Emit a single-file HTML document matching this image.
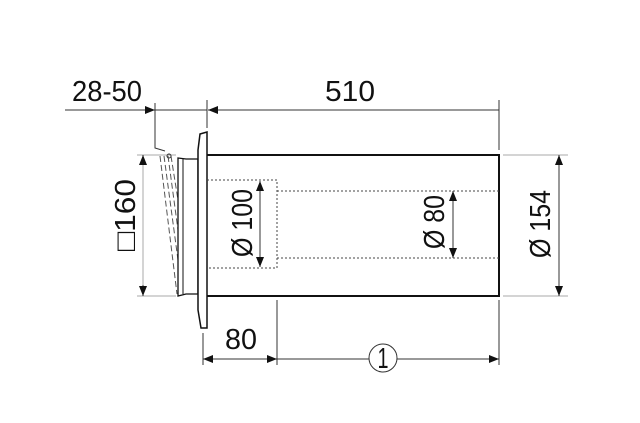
<!DOCTYPE html>
<html><head><style>body{margin:0;background:#fff}svg{display:block}text{font-family:"Liberation Sans",sans-serif;font-size:29px;fill:#111}</style></head>
<body>
<svg width="640" height="423" viewBox="0 0 640 423">
<defs>
<marker id="a" markerWidth="10" markerHeight="8" refX="10" refY="4" orient="auto" markerUnits="userSpaceOnUse"><path d="M0,0 L10,4 L0,8 z" fill="#111"/></marker>
</defs>
<g stroke="#333" stroke-width="1" fill="none">
<line x1="65" y1="110" x2="155" y2="110" marker-end="url(#a)"/>
<line x1="155" y1="110" x2="207" y2="110"/>
<line x1="499" y1="110" x2="208" y2="110" marker-end="url(#a)"/>
<polyline points="155,103 155,148 165,151"/>
<line x1="207" y1="100" x2="207" y2="128"/>
<line x1="499" y1="100" x2="499" y2="150"/>
<line x1="137" y1="155" x2="176" y2="155" stroke="#aaa"/>
<line x1="137" y1="296" x2="176" y2="296" stroke="#aaa"/>
<line x1="143" y1="165" x2="143" y2="155" marker-end="url(#a)"/>
<line x1="143" y1="165" x2="143" y2="285" stroke="#aaa"/>
<line x1="143" y1="285" x2="143" y2="296" marker-end="url(#a)"/>
<g stroke-dasharray="6,3" stroke="#555">
<line x1="160" y1="156" x2="177" y2="294"/>
<line x1="164" y1="156" x2="178" y2="260"/>
<line x1="168" y1="156" x2="178" y2="230"/>
<line x1="171" y1="156" x2="178" y2="200"/>
</g>
<circle cx="169" cy="156" r="2"/>
</g>
<g stroke="#111" stroke-width="2" fill="#fff">
<path d="M178,158 L186,159 L198,159 L198,294 L186,294 L178,296 z" stroke-width="1.3"/>
<line x1="183" y1="159" x2="183" y2="294" stroke-width="1"/>
<path d="M200,134 L207,132 L207,328 L201,328 L198,310 L198,150 z" stroke-width="1.5"/>
<path d="M207,155 L499,155 L499,296 L207,296" fill="none"/>
</g>
<g stroke="#444" stroke-width="1" fill="none" stroke-dasharray="2,2">
<path d="M207,180 L277,180 L277,268 L207,268"/>
<line x1="277" y1="191" x2="499" y2="191"/>
<line x1="277" y1="258" x2="499" y2="258"/>
</g>
<g stroke="#333" stroke-width="1" fill="none">
<line x1="260" y1="222" x2="260" y2="181" marker-end="url(#a)"/>
<line x1="260" y1="222" x2="260" y2="267" marker-end="url(#a)"/>
<line x1="453" y1="224" x2="453" y2="191" marker-end="url(#a)"/>
<line x1="453" y1="224" x2="453" y2="258" marker-end="url(#a)"/>
<line x1="503" y1="155" x2="568" y2="155" stroke="#aaa"/>
<line x1="503" y1="296" x2="568" y2="296" stroke="#aaa"/>
<line x1="559" y1="225" x2="559" y2="155" marker-end="url(#a)"/>
<line x1="559" y1="225" x2="559" y2="296" marker-end="url(#a)"/>
<line x1="203" y1="333" x2="203" y2="365"/>
<line x1="277" y1="300" x2="277" y2="365"/>
<line x1="499" y1="300" x2="499" y2="365"/>
<line x1="240" y1="359" x2="203" y2="359" marker-end="url(#a)"/>
<line x1="240" y1="359" x2="277" y2="359" marker-end="url(#a)"/>
<line x1="277" y1="359" x2="369" y2="359"/>
<line x1="397" y1="359" x2="499" y2="359" marker-end="url(#a)"/>
<circle cx="383" cy="358" r="14"/>
</g>
<text x="72" y="101" textLength="70" lengthAdjust="spacingAndGlyphs">28-50</text>
<text x="325" y="101" textLength="50" lengthAdjust="spacingAndGlyphs">510</text>
<text x="225" y="349" textLength="32" lengthAdjust="spacingAndGlyphs">80</text>
<text x="383" y="368" text-anchor="middle" font-size="25" textLength="11" lengthAdjust="spacingAndGlyphs">1</text>
<text transform="translate(135,215) rotate(-90)" text-anchor="middle" textLength="72" lengthAdjust="spacingAndGlyphs">□160</text>
<text transform="translate(252,223) rotate(-90)" text-anchor="middle" font-size="32" textLength="68" lengthAdjust="spacingAndGlyphs">Ø 100</text>
<text transform="translate(444,222) rotate(-90)" text-anchor="middle" font-size="32" textLength="54" lengthAdjust="spacingAndGlyphs">Ø 80</text>
<text transform="translate(550,224) rotate(-90)" text-anchor="middle" font-size="32" textLength="68" lengthAdjust="spacingAndGlyphs">Ø 154</text>
</svg>
</body></html>
